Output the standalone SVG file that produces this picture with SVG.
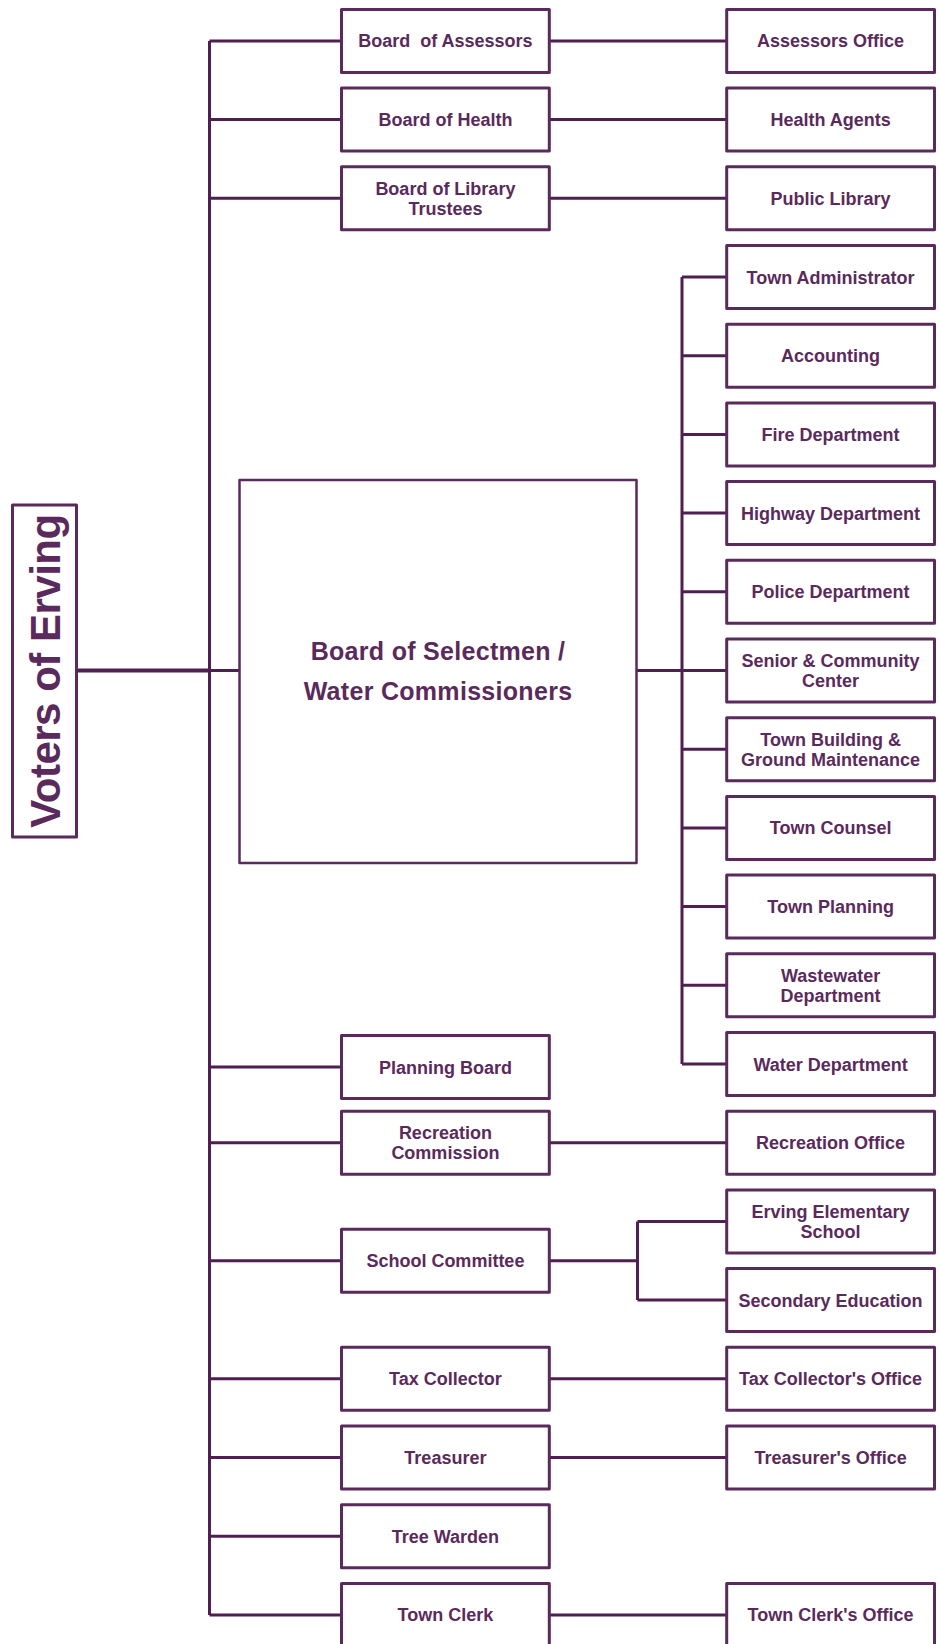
<svg xmlns="http://www.w3.org/2000/svg" width="940" height="1644" viewBox="0 0 940 1644">
<style>
.box{fill:#fff;stroke:#5a2a5c;stroke-width:3;stroke-linejoin:round}
.big{fill:#fff;stroke:#5a2a5c;stroke-width:2.5;stroke-linejoin:round}
.t{font-family:"Liberation Sans",Arial,sans-serif;font-weight:bold;font-size:18px;fill:#5a2a5c;text-anchor:middle}
.tb{font-family:"Liberation Sans",Arial,sans-serif;font-weight:bold;font-size:25px;fill:#5a2a5c;text-anchor:middle;letter-spacing:0.3px}
.tv{font-family:"Liberation Sans",Arial,sans-serif;font-weight:bold;font-size:42px;fill:#5a2a5c;text-anchor:middle;letter-spacing:-0.5px}
.c{fill:none;stroke:#4e1f50;stroke-width:3}
</style>
<rect width="940" height="1644" fill="#fff"/>
<g id="connectors">
<path class="c" d="M209.5 40.9V1615"/>
<path class="c" d="M76.5 670.5H209.5" style="stroke-width:4"/>
<path class="c" d="M209.5 670.5H239.5"/>
<path class="c" d="M209.5 40.9H341.5M549.3 40.9H726.7"/>
<path class="c" d="M209.5 119.6H341.5M549.3 119.6H726.7"/>
<path class="c" d="M209.5 198.3H341.5M549.3 198.3H726.7"/>
<path class="c" d="M636.7 670.5H682M682 277V1064"/>
<path class="c" d="M682 277H726.7M682 355.7H726.7M682 434.4H726.7M682 513.1H726.7M682 591.8H726.7M682 670.5H726.7M682 749.2H726.7M682 827.9H726.7M682 906.6H726.7M682 985.3H726.7M682 1064H726.7"/>
<path class="c" d="M209.5 1067H341.5"/>
<path class="c" d="M209.5 1142.7H341.5M549.3 1142.7H726.7"/>
<path class="c" d="M209.5 1260.75H341.5M549.3 1260.75H637.5M637.5 1221.4V1300.1M637.5 1221.4H726.7M637.5 1300.1H726.7"/>
<path class="c" d="M209.5 1378.8H341.5M549.3 1378.8H726.7"/>
<path class="c" d="M209.5 1457.5H341.5M549.3 1457.5H726.7"/>
<path class="c" d="M209.5 1536.2H341.5"/>
<path class="c" d="M209.5 1614.9H341.5M549.3 1614.9H726.7"/>
</g>
<g id="voters"><rect class="box" x="12.5" y="505" width="64" height="332"/><text class="tv" transform="translate(60,671) rotate(-90)">Voters of Erving</text></g>
<g id="selectmen"><rect class="big" x="239.5" y="480" width="397" height="383"/><text class="tb" x="438" y="660">Board of Selectmen /</text><text class="tb" x="438" y="700">Water Commissioners</text></g>

<g id="board-assessors"><rect class="box" x="341.5" y="9.4" width="207.8" height="63"/><text class="t" x="445.4" y="47.4" xml:space="preserve">Board  of Assessors</text></g>
<g id="assessors-office"><rect class="box" x="726.7" y="9.4" width="207.8" height="63"/><text class="t" x="830.6" y="47.4">Assessors Office</text></g>
<g id="board-health"><rect class="box" x="341.5" y="88.1" width="207.8" height="63"/><text class="t" x="445.4" y="126.1">Board of Health</text></g>
<g id="health-agents"><rect class="box" x="726.7" y="88.1" width="207.8" height="63"/><text class="t" x="830.6" y="126.1">Health Agents</text></g>
<g id="board-library"><rect class="box" x="341.5" y="166.8" width="207.8" height="63"/><text class="t" x="445.4" y="194.8">Board of Library</text><text class="t" x="445.4" y="214.8">Trustees</text></g>
<g id="public-library"><rect class="box" x="726.7" y="166.8" width="207.8" height="63"/><text class="t" x="830.6" y="204.8">Public Library</text></g>

<g id="town-admin"><rect class="box" x="726.7" y="245.5" width="207.8" height="63"/><text class="t" x="830.6" y="283.5">Town Administrator</text></g>
<g id="accounting"><rect class="box" x="726.7" y="324.2" width="207.8" height="63"/><text class="t" x="830.6" y="362.2">Accounting</text></g>
<g id="fire"><rect class="box" x="726.7" y="402.9" width="207.8" height="63"/><text class="t" x="830.6" y="440.9">Fire Department</text></g>
<g id="highway"><rect class="box" x="726.7" y="481.6" width="207.8" height="63"/><text class="t" x="830.6" y="519.6">Highway Department</text></g>
<g id="police"><rect class="box" x="726.7" y="560.3" width="207.8" height="63"/><text class="t" x="830.6" y="598.3">Police Department</text></g>
<g id="senior"><rect class="box" x="726.7" y="639" width="207.8" height="63"/><text class="t" x="830.6" y="667">Senior &amp; Community</text><text class="t" x="830.6" y="687">Center</text></g>
<g id="building"><rect class="box" x="726.7" y="717.7" width="207.8" height="63"/><text class="t" x="830.6" y="745.7">Town Building &amp;</text><text class="t" x="830.6" y="765.7">Ground Maintenance</text></g>
<g id="counsel"><rect class="box" x="726.7" y="796.4" width="207.8" height="63"/><text class="t" x="830.6" y="834.4">Town Counsel</text></g>
<g id="town-planning"><rect class="box" x="726.7" y="875.1" width="207.8" height="63"/><text class="t" x="830.6" y="913.1">Town Planning</text></g>
<g id="wastewater"><rect class="box" x="726.7" y="953.8" width="207.8" height="63"/><text class="t" x="830.6" y="981.8">Wastewater</text><text class="t" x="830.6" y="1001.8">Department</text></g>
<g id="water"><rect class="box" x="726.7" y="1032.5" width="207.8" height="63"/><text class="t" x="830.6" y="1070.5">Water Department</text></g>

<g id="planning-board"><rect class="box" x="341.5" y="1035.5" width="207.8" height="63"/><text class="t" x="445.4" y="1073.5">Planning Board</text></g>
<g id="recreation-comm"><rect class="box" x="341.5" y="1111.2" width="207.8" height="63"/><text class="t" x="445.4" y="1139.2">Recreation</text><text class="t" x="445.4" y="1159.2">Commission</text></g>
<g id="recreation-office"><rect class="box" x="726.7" y="1111.2" width="207.8" height="63"/><text class="t" x="830.6" y="1149.2">Recreation Office</text></g>
<g id="erving-elem"><rect class="box" x="726.7" y="1189.9" width="207.8" height="63"/><text class="t" x="830.6" y="1217.9">Erving Elementary</text><text class="t" x="830.6" y="1237.9">School</text></g>
<g id="school-committee"><rect class="box" x="341.5" y="1229.25" width="207.8" height="63"/><text class="t" x="445.4" y="1267.25">School Committee</text></g>
<g id="secondary"><rect class="box" x="726.7" y="1268.6" width="207.8" height="63"/><text class="t" x="830.6" y="1306.6">Secondary Education</text></g>
<g id="tax-collector"><rect class="box" x="341.5" y="1347.3" width="207.8" height="63"/><text class="t" x="445.4" y="1385.3">Tax Collector</text></g>
<g id="tax-office"><rect class="box" x="726.7" y="1347.3" width="207.8" height="63"/><text class="t" x="830.6" y="1385.3">Tax Collector's Office</text></g>
<g id="treasurer"><rect class="box" x="341.5" y="1426" width="207.8" height="63"/><text class="t" x="445.4" y="1464">Treasurer</text></g>
<g id="treasurer-office"><rect class="box" x="726.7" y="1426" width="207.8" height="63"/><text class="t" x="830.6" y="1464">Treasurer's Office</text></g>
<g id="tree-warden"><rect class="box" x="341.5" y="1504.7" width="207.8" height="63"/><text class="t" x="445.4" y="1542.7">Tree Warden</text></g>
<g id="town-clerk"><rect class="box" x="341.5" y="1583.4" width="207.8" height="63"/><text class="t" x="445.4" y="1621.4">Town Clerk</text></g>
<g id="clerk-office"><rect class="box" x="726.7" y="1583.4" width="207.8" height="63"/><text class="t" x="830.6" y="1621.4">Town Clerk's Office</text></g>
</svg>
